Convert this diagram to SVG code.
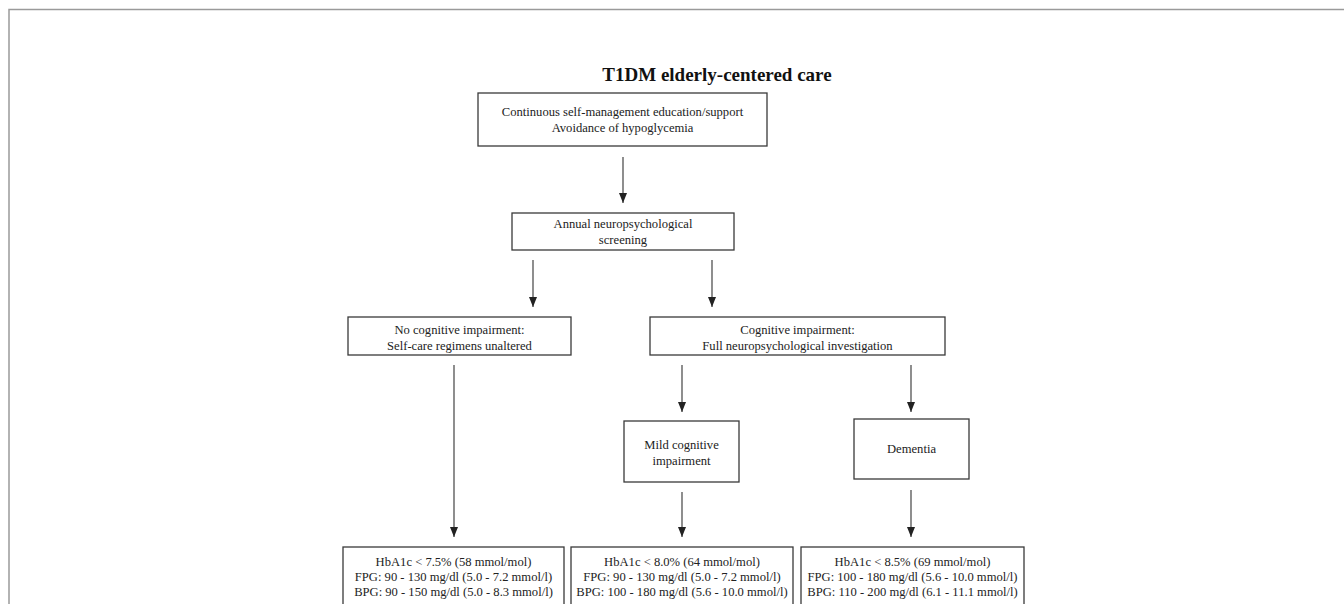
<svg xmlns="http://www.w3.org/2000/svg" width="1344" height="604" viewBox="0 0 1344 604">
<style>
.frame{fill:none;stroke:#9a9a9a;stroke-width:1.5}
.box{fill:#fff;stroke:#3a3a3a;stroke-width:1.3}
.t{font-family:"Liberation Serif","Times New Roman",serif;font-size:12.6px;fill:#222;text-anchor:middle}
.title{font-family:"Liberation Serif","Times New Roman",serif;font-size:19px;font-weight:bold;fill:#111;text-anchor:middle}
.c{fill:none;stroke:#444;stroke-width:1.2}
</style>
<defs>
<marker id="ah" markerWidth="10" markerHeight="8" refX="10" refY="4" orient="auto" markerUnits="userSpaceOnUse" viewBox="0 0 10 8">
<path d="M0,0 L10,4 L0,8 Z" fill="#222"/>
</marker>
</defs>
<rect width="1344" height="604" fill="#fff"/>
<path class="frame" d="M9,620 L9,9.5 L1344,9.5"/>
<text class="title" x="717" y="81">T1DM elderly-centered care</text>
<g id="connectors">
<line class="c" x1="623" y1="157" x2="623" y2="203" marker-end="url(#ah)"/>
<line class="c" x1="533" y1="260" x2="533" y2="307" marker-end="url(#ah)"/>
<line class="c" x1="712" y1="260" x2="712" y2="307" marker-end="url(#ah)"/>
<line class="c" x1="454" y1="365" x2="454" y2="537" marker-end="url(#ah)"/>
<line class="c" x1="682" y1="365" x2="682" y2="412" marker-end="url(#ah)"/>
<line class="c" x1="911" y1="365" x2="911" y2="412" marker-end="url(#ah)"/>
<line class="c" x1="682" y1="492" x2="682" y2="537" marker-end="url(#ah)"/>
<line class="c" x1="911" y1="490" x2="911" y2="537" marker-end="url(#ah)"/>
</g>
<g id="top">
<rect class="box" x="478" y="93" width="289" height="53"/>
<text class="t" x="622.5" y="116">Continuous self-management education/support</text>
<text class="t" x="622.5" y="132">Avoidance of hypoglycemia</text>
</g>
<g id="annual">
<rect class="box" x="512" y="213" width="222" height="37"/>
<text class="t" x="623" y="228">Annual neuropsychological</text>
<text class="t" x="623" y="244">screening</text>
</g>
<g id="nocog">
<rect class="box" x="348" y="317" width="223" height="38"/>
<text class="t" x="459.5" y="334">No cognitive impairment:</text>
<text class="t" x="459.5" y="350">Self-care regimens unaltered</text>
</g>
<g id="cog">
<rect class="box" x="650" y="317" width="295" height="38"/>
<text class="t" x="797.5" y="334">Cognitive impairment:</text>
<text class="t" x="797.5" y="350">Full neuropsychological investigation</text>
</g>
<g id="mild">
<rect class="box" x="624" y="421" width="115" height="61"/>
<text class="t" x="681.5" y="449">Mild cognitive</text>
<text class="t" x="681.5" y="465">impairment</text>
</g>
<g id="dementia">
<rect class="box" x="854" y="419" width="115" height="60"/>
<text class="t" x="911.5" y="453">Dementia</text>
</g>
<g id="target1">
<rect class="box" x="343" y="547" width="221" height="70"/>
<text class="t" x="453.5" y="566">HbA1c &lt; 7.5% (58 mmol/mol)</text>
<text class="t" x="453.5" y="581">FPG: 90 - 130 mg/dl (5.0 - 7.2 mmol/l)</text>
<text class="t" x="453.5" y="596">BPG: 90 - 150 mg/dl (5.0 - 8.3 mmol/l)</text>
</g>
<g id="target2">
<rect class="box" x="571" y="547" width="222" height="70"/>
<text class="t" x="682" y="566">HbA1c &lt; 8.0% (64 mmol/mol)</text>
<text class="t" x="682" y="581">FPG: 90 - 130 mg/dl (5.0 - 7.2 mmol/l)</text>
<text class="t" x="682" y="596">BPG: 100 - 180 mg/dl (5.6 - 10.0 mmol/l)</text>
</g>
<g id="target3">
<rect class="box" x="801" y="547" width="223" height="70"/>
<text class="t" x="912.5" y="566">HbA1c &lt; 8.5% (69 mmol/mol)</text>
<text class="t" x="912.5" y="581">FPG: 100 - 180 mg/dl (5.6 - 10.0 mmol/l)</text>
<text class="t" x="912.5" y="596">BPG: 110 - 200 mg/dl (6.1 - 11.1 mmol/l)</text>
</g>
</svg>
